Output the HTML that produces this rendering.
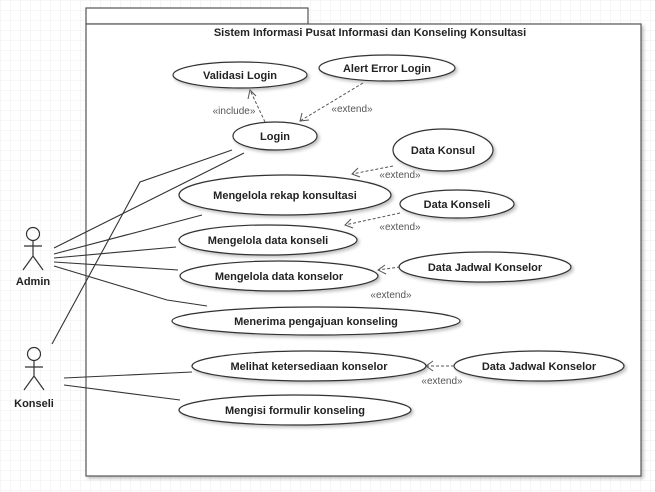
<!DOCTYPE html>
<html><head><style>
html,body{margin:0;padding:0;background:#fff;}
svg{display:block;font-family:"Liberation Sans",sans-serif;}
.uc{font-weight:bold;font-size:11px;fill:#222;text-anchor:middle;}
.st{font-size:10px;fill:#555;text-anchor:middle;}
</style></head><body>
<svg width="655" height="492" viewBox="0 0 655 492">
<defs>
<pattern id="g" width="10" height="10" patternUnits="userSpaceOnUse"><path d="M10 0H0V10" fill="none" stroke="#eee" stroke-width="1"/></pattern>
<filter id="sh" x="-10%" y="-20%" width="130%" height="160%"><feDropShadow dx="2" dy="2" stdDeviation="1.5" flood-color="#000" flood-opacity="0.25"/></filter>
</defs>
<rect width="655" height="492" fill="url(#g)"/>
<rect x="86" y="8" width="222" height="16" fill="#fff" stroke="#555" stroke-width="1.2"/>
<rect x="86" y="24" width="555" height="452" fill="#fff" stroke="#555" stroke-width="1.2" filter="url(#sh)"/>
<text x="370" y="36" class="uc" style="font-size:11px">Sistem Informasi Pusat Informasi dan Konseling Konsultasi</text>
<g fill="#fff" stroke="#333" stroke-width="1.2" filter="url(#sh)">
<ellipse cx="240" cy="75" rx="67" ry="13"/>
<ellipse cx="387" cy="68" rx="68" ry="13"/>
<ellipse cx="275" cy="136" rx="42" ry="14"/>
<ellipse cx="443" cy="150" rx="50" ry="21"/>
<ellipse cx="285" cy="195" rx="106" ry="20"/>
<ellipse cx="457" cy="204" rx="57" ry="14"/>
<ellipse cx="268" cy="240" rx="89" ry="15"/>
<ellipse cx="279" cy="276" rx="99" ry="15"/>
<ellipse cx="485" cy="267" rx="86" ry="15"/>
<ellipse cx="316" cy="321" rx="144" ry="14"/>
<ellipse cx="309" cy="366" rx="117" ry="15"/>
<ellipse cx="539" cy="366" rx="85" ry="15"/>
<ellipse cx="295" cy="410" rx="116" ry="15"/>
</g>
<g class="uc">
<text x="240" y="79" class="uc">Validasi Login</text>
<text x="387" y="72" class="uc">Alert Error Login</text>
<text x="275" y="140" class="uc">Login</text>
<text x="443" y="154" class="uc">Data Konsul</text>
<text x="285" y="199" class="uc">Mengelola rekap konsultasi</text>
<text x="457" y="208" class="uc">Data Konseli</text>
<text x="268" y="244" class="uc">Mengelola data konseli</text>
<text x="279" y="280" class="uc">Mengelola data konselor</text>
<text x="485" y="271" class="uc">Data Jadwal Konselor</text>
<text x="316" y="325" class="uc">Menerima pengajuan konseling</text>
<text x="309" y="370" class="uc">Melihat ketersediaan konselor</text>
<text x="539" y="370" class="uc">Data Jadwal Konselor</text>
<text x="295" y="414" class="uc">Mengisi formulir konseling</text>
</g>
<!-- actors -->
<g fill="none" stroke="#333" stroke-width="1.2">
<circle cx="33" cy="234" r="6.5"/>
<path d="M33 240V256M24 246H42M23 270L33 256L43 270"/>
<circle cx="34" cy="354" r="6.5"/>
<path d="M34 360V376M25 367H43M24 390L34 376L44 390"/>
</g>
<text x="33" y="285" class="uc">Admin</text>
<text x="34" y="407" class="uc">Konseli</text>
<!-- associations -->
<g fill="none" stroke="#333" stroke-width="1.1">
<path d="M54 248L244 153"/>
<path d="M52 344L140 182L232 150"/>
<path d="M54 254L202 215"/>
<path d="M54 258L176 247"/>
<path d="M54 262L178 270"/>
<path d="M54 266L167 300L207 306"/>
<path d="M64 378L192 372"/>
<path d="M64 385L180 400"/>
</g>
<!-- dependencies -->
<g fill="none" stroke="#555" stroke-width="1" stroke-dasharray="3,2">
<path d="M265 122L250 90"/>
<path d="M363 83L300 121"/>
<path d="M393 166L352 174"/>
<path d="M400 213L345 225"/>
<path d="M400 267L378 270"/>
<path d="M454 366L426 366"/>
</g>
<g fill="none" stroke="#555" stroke-width="1">
<path d="M248 99L250 90L256 96"/>
<path d="M302 113L300 121L309 120"/>
<path d="M358 168L352 174L360 177"/>
<path d="M351 219L345 225L353 228"/>
<path d="M385 265L378 270L386 274"/>
<path d="M433 361L426 366L433 371"/>
</g>
<text x="234" y="114" class="st">«include»</text>
<text x="352" y="112" class="st">«extend»</text>
<text x="400" y="178" class="st">«extend»</text>
<text x="400" y="230" class="st">«extend»</text>
<text x="391" y="298" class="st">«extend»</text>
<text x="442" y="384" class="st">«extend»</text>
</svg>
</body></html>
